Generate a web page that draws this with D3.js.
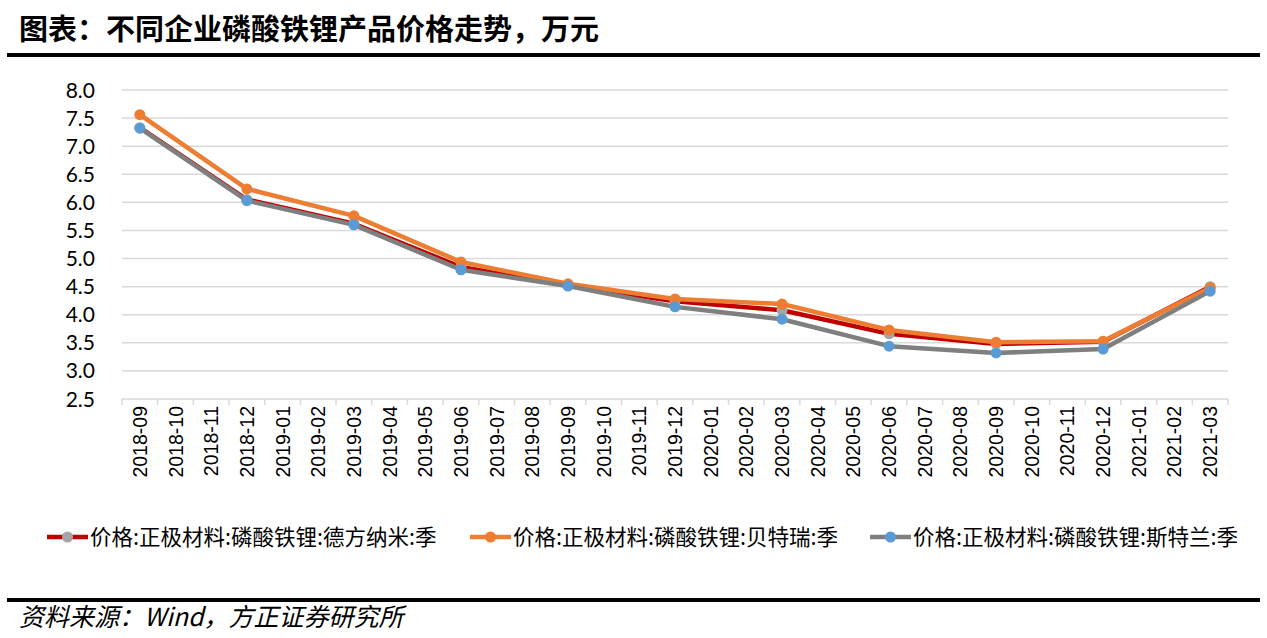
<!DOCTYPE html>
<html>
<head>
<meta charset="utf-8">
<script src="https://cdn.jsdelivr.net/npm/d3@7"></script>
<style>
  body { margin: 0; background: #fff; }
  svg { display: block; }
</style>
</head>
<body>
<svg width="1267" height="638"></svg>
<script>
// months on x axis
let months = ["2018-09","2018-10","2018-11","2018-12","2019-01","2019-02","2019-03","2019-04","2019-05",
  "2019-06","2019-07","2019-08","2019-09","2019-10","2019-11","2019-12","2020-01","2020-02","2020-03",
  "2020-04","2020-05","2020-06","2020-07","2020-08","2020-09","2020-10","2020-11","2020-12","2021-01",
  "2021-02","2021-03"];
// quarterly data points only
let quarters = ["2018-09","2018-12","2019-03","2019-06","2019-09","2019-12","2020-03","2020-06","2020-09","2020-12","2021-03"];
let dynanonic = [7.33, 6.05, 5.62, 4.85, 4.52, 4.24, 4.08, 3.66, 3.48, 3.52, 4.50];
let btr       = [7.56, 6.24, 5.76, 4.94, 4.55, 4.28, 4.19, 3.73, 3.51, 3.53, 4.48];
let sterlan   = [7.32, 6.03, 5.60, 4.80, 4.51, 4.14, 3.92, 3.44, 3.32, 3.39, 4.42];
let yTicks = [2.5, 3.0, 3.5, 4.0, 4.5, 5.0, 5.5, 6.0, 6.5, 7.0, 7.5, 8.0];

let seriesNames = ["价格:正极材料:磷酸铁锂:德方纳米:季", "价格:正极材料:磷酸铁锂:贝特瑞:季", "价格:正极材料:磷酸铁锂:斯特兰:季"];
let series = [
  {name: seriesNames[0], values: dynanonic, line: "#C00000", marker: "#A5A5A5"},
  {name: seriesNames[1], values: btr, line: "#ED7D31", marker: "#ED7D31"},
  {name: seriesNames[2], values: sterlan, line: "#7F7F7F", marker: "#5B9BD5"}
];

const svg = d3.select("svg");
const cjk = "'Noto Sans CJK SC', sans-serif";

// title
svg.append("text")
  .attr("x", 19).attr("y", 40)
  .attr("font-family", cjk).attr("font-weight", "bold")
  .attr("font-size", 29).attr("fill", "#000")
  .text("图表：不同企业磷酸铁锂产品价格走势，万元");
svg.append("line")
  .attr("x1", 7).attr("x2", 1260).attr("y1", 55).attr("y2", 55)
  .attr("stroke", "#000").attr("stroke-width", 4);

const x = d3.scaleBand().domain(months).range([122, 1228]);
const y = d3.scaleLinear().domain([2.5, 8.0]).range([399, 90]);

// gridlines
svg.append("g").selectAll("line")
  .data(yTicks.slice(1))
  .join("line")
  .attr("x1", 122).attr("x2", 1228)
  .attr("y1", d => y(d)).attr("y2", d => y(d))
  .attr("stroke", "#D9D9D9").attr("stroke-width", 1.5);

// y axis labels
svg.append("g").selectAll("text")
  .data(yTicks)
  .join("text")
  .attr("x", 95).attr("y", d => y(d) + 7.5)
  .attr("text-anchor", "end")
  .attr("font-family", "Lato, 'Liberation Sans', sans-serif")
  .attr("font-size", 21).attr("fill", "#000")
  .text(d => d.toFixed(1));

// x axis
const xAxis = svg.append("g").attr("transform", "translate(0,399)");
xAxis.append("line")
  .attr("x1", 122).attr("x2", 1228)
  .attr("stroke", "#D9D9D9").attr("stroke-width", 1.5);
xAxis.selectAll("line.tick")
  .data(months.concat(["end"]))
  .join("line").attr("class", "tick")
  .attr("x1", (d, i) => 122 + i * x.step()).attr("x2", (d, i) => 122 + i * x.step())
  .attr("y1", 0).attr("y2", 6)
  .attr("stroke", "#D9D9D9").attr("stroke-width", 1.5);
xAxis.selectAll("text")
  .data(months)
  .join("text")
  .attr("transform", d => `translate(${x(d) + x.bandwidth() / 2 + 7},7) rotate(-90)`)
  .attr("text-anchor", "end")
  .attr("font-family", "'Liberation Sans', Arial, sans-serif")
  .attr("font-size", 19.5).attr("fill", "#000")
  .text(d => d);

// lines
const line = d3.line()
  .x((d, i) => x(quarters[i]) + x.bandwidth() / 2)
  .y(d => y(d));

series.forEach(s => {
  const g = svg.append("g");
  g.append("path")
    .datum(s.values)
    .attr("d", line)
    .attr("fill", "none")
    .attr("stroke", s.line).attr("stroke-width", 4.5)
    .attr("stroke-linejoin", "round");
  g.selectAll("circle")
    .data(s.values)
    .join("circle")
    .attr("cx", (d, i) => x(quarters[i]) + x.bandwidth() / 2)
    .attr("cy", d => y(d))
    .attr("r", 5.5)
    .attr("fill", s.marker);
});

// legend
let legendX = [47, 470, 870];
series.forEach((s, i) => {
  const g = svg.append("g").attr("transform", `translate(${legendX[i]},537)`);
  g.append("line").attr("x1", 0).attr("x2", 41)
    .attr("stroke", s.line).attr("stroke-width", 4.5);
  g.append("circle").attr("cx", 20.5).attr("r", 5.5).attr("fill", s.marker);
  g.append("text")
    .attr("x", 43).attr("y", 7.5)
    .attr("font-family", cjk).attr("font-size", 21.5).attr("fill", "#000")
    .text(s.name);
});

// footer
svg.append("line")
  .attr("x1", 7).attr("x2", 1260).attr("y1", 600).attr("y2", 600)
  .attr("stroke", "#000").attr("stroke-width", 4);
svg.append("text")
  .attr("x", 19).attr("y", 626)
  .attr("font-family", cjk).attr("font-style", "italic")
  .attr("font-size", 25).attr("fill", "#000")
  .text("资料来源：Wind，方正证券研究所");
</script>
</body>
</html>
